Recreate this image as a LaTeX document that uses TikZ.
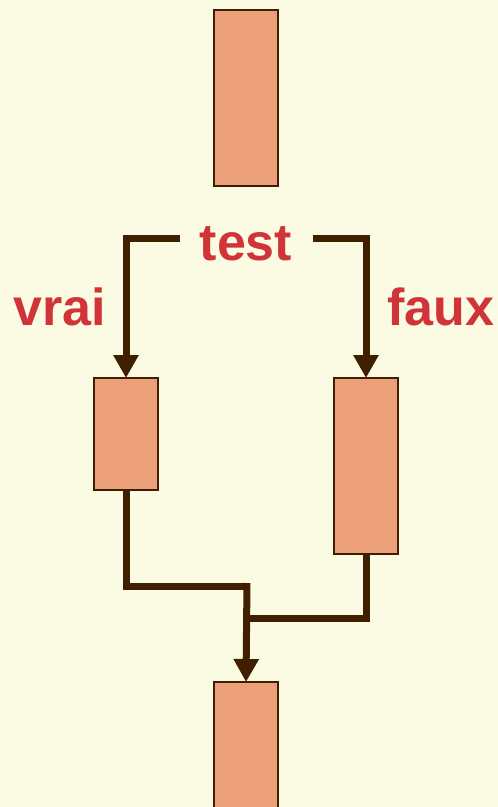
\documentclass[tikz,border=0pt]{standalone}
\usepackage{fontspec}
\setmainfont{Liberation Sans}
\usetikzlibrary{arrows.meta}
\definecolor{bg}{HTML}{FBFAE3}
\definecolor{boxfill}{HTML}{EBA07A}
\definecolor{brown}{HTML}{3F1F00}
\definecolor{lbl}{HTML}{D13438}
\begin{document}
\begin{tikzpicture}[x=1pt,y=-1pt,
  blk/.style={draw=brown,line width=2pt,fill=boxfill,minimum width=64pt,inner sep=0pt,outer sep=0pt},
  flow/.style={draw=brown,line width=7pt},
  arr/.style={flow,-{Triangle[length=23pt,width=24pt]}},
  lab/.style={text=lbl,font=\bfseries\fontsize{52}{52}\selectfont,anchor=base,inner sep=0pt}]
\fill[bg] (0,0) rectangle (498,807);
\useasboundingbox (0,0) rectangle (498,807);
\node[blk,minimum height=176pt] (top) at (246,98) {};
\node[blk,minimum height=112pt] (left) at (126,434) {};
\node[blk,minimum height=176pt] (right) at (366,466) {};
\node[blk,minimum height=150pt] (bot) at (246,757) {};
\node[lab] (test) at (246,260) {test};
\node[lab] (vrai) at (59.5,325) {vrai};
\node[lab] (faux) at (440.5,325) {faux};
\coordinate (tl) at (180,238);
\coordinate (tr) at (313,238);
\coordinate (m1) at (250,586);
\coordinate (m2) at (244,618);
\coordinate (mt) at (247,583);
\draw[arr] (tl) -| (left.north);
\draw[arr] (tr) -| (right.north);
\draw[flow] (left.south) |- (m1);
\draw[flow] (right.south) |- (m2);
\draw[arr] (mt) -- (bot.north);
\end{tikzpicture}
\end{document}
